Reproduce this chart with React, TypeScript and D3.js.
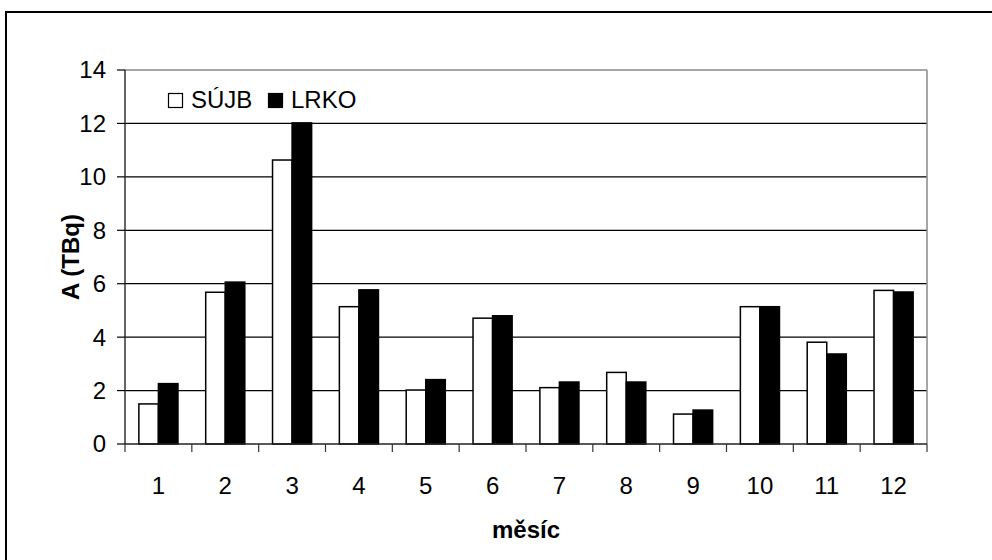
import React from "react";
import * as d3 from "d3";

const months = ["1", "2", "3", "4", "5", "6", "7", "8", "9", "10", "11", "12"];
const sujb = [1.5, 5.68, 10.63, 5.14, 2.02, 4.71, 2.11, 2.68, 1.12, 5.14, 3.81, 5.75];
const lrko = [2.26, 6.06, 12.02, 5.77, 2.41, 4.8, 2.32, 2.32, 1.27, 5.14, 3.37, 5.69];
const yTicks = [0, 2, 4, 6, 8, 10, 12, 14];
const seriesNames = ["SÚJB", "LRKO"];

const W = 992, H = 560;
const left = 125, right = 927, top = 70, bottom = 444;
const FONT = "'Liberation Sans', Arial, sans-serif";
const FS = 24;

export default function App() {
  const x = d3.scaleBand().domain(months).range([left, right]).paddingInner(0.415).paddingOuter(0.2075);
  const y = d3.scaleLinear().domain([0, 14]).range([bottom, top]);
  const step = (right - left) / months.length;
  const bw = x.bandwidth() / 2;
  return (
    <svg width={W} height={H} style={{ position: "absolute", left: 0, top: 0 }} fontFamily={FONT}>
      <rect x={0} y={0} width={W} height={H} fill="#fff" />
      <rect x={6} y={12} width={W + 20} height={H + 20} fill="none" stroke="#000" strokeWidth={2} />
      {yTicks.filter((t) => t > 0 && t < 14).map((t) => (
        <line key={t} x1={left} x2={right} y1={y(t)} y2={y(t)} stroke="#000" strokeWidth={1.2} />
      ))}
      <line x1={left} x2={right} y1={y(14)} y2={y(14)} stroke="#888" strokeWidth={1.5} />
      <line x1={right} x2={right} y1={top} y2={bottom} stroke="#888" strokeWidth={1.5} />
      {months.map((m, i) => (
        <g key={m}>
          <rect x={x(m)!} y={y(sujb[i])} width={bw} height={bottom - y(sujb[i])} fill="#fff" stroke="#000" strokeWidth={1.5} />
          <rect x={x(m)! + bw} y={y(lrko[i])} width={bw} height={bottom - y(lrko[i])} fill="#000" stroke="#000" strokeWidth={1.5} />
        </g>
      ))}
      <line x1={left} x2={left} y1={top} y2={bottom} stroke="#333" strokeWidth={1.5} />
      <line x1={left} x2={right} y1={bottom} y2={bottom} stroke="#222" strokeWidth={1.5} />
      {yTicks.map((t) => (
        <g key={t}>
          <line x1={left - 8} x2={left} y1={y(t)} y2={y(t)} stroke="#000" strokeWidth={1.2} />
          <text x={106} y={y(t)} dy="0.35em" textAnchor="end" fontSize={FS}>{t}</text>
        </g>
      ))}
      {months.map((m, i) => (
        <line key={"t" + m} x1={left + i * step} x2={left + i * step} y1={bottom} y2={bottom + 8} stroke="#333" strokeWidth={1.2} />
      ))}
      <line x1={right} x2={right} y1={bottom} y2={bottom + 8} stroke="#333" strokeWidth={1.2} />
      {months.map((m) => (
        <text key={"l" + m} x={x(m)! + x.bandwidth() / 2} y={486} dy="0.35em" textAnchor="middle" fontSize={FS}>{m}</text>
      ))}
      <text x={(left + right) / 2} y={530} dy="0.35em" textAnchor="middle" fontSize={FS} fontWeight="bold">měsíc</text>
      <text transform={`translate(71, ${(top + bottom) / 2}) rotate(-90)`} dy="0.35em" textAnchor="middle" fontSize={FS} fontWeight="bold">A (TBq)</text>
      <rect x={168.5} y={93.5} width={14} height={14} fill="#fff" stroke="#000" strokeWidth={1.2} />
      <text x={191} y={100} dy="0.35em" fontSize={FS}>{seriesNames[0]}</text>
      <rect x={268.5} y={93.5} width={14} height={14} fill="#000" stroke="#000" strokeWidth={1.2} />
      <text x={291} y={100} dy="0.35em" fontSize={FS}>{seriesNames[1]}</text>
    </svg>
  );
}
